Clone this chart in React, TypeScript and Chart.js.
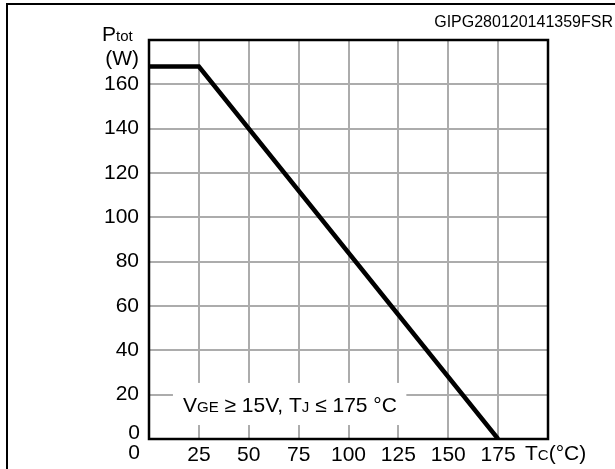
import React, { useEffect, useRef } from 'react';
import { Chart, registerables } from 'chart.js';

Chart.register(...registerables);

// ---- data ----
const tcValues = [0, 25, 175];
const ptotValues = [168, 168, 0];
const xTickLabels = ['25', '50', '75', '100', '125', '150', '175'];
const yTickLabels = ['20', '40', '60', '80', '100', '120', '140', '160'];
const partCode = 'GIPG280120141359FSR';
const yTitleMain = 'P';
const yTitleSub = 'tot';
const yTitleUnit = '(W)';
const xTitleMain = 'T';
const xTitleSub = 'C';
const xTitleUnit = '(°C)';
const conditionParts: [string, boolean][] = [
  ['V', false],
  ['GE', true],
  [' ≥ 15V, T', false],
  ['J', true],
  [' ≤ 175 °C', false],
];

const FONT = "'Liberation Sans', Arial, sans-serif";
const BIG = 21;
const SMALL = 15;

function drawParts(ctx: CanvasRenderingContext2D, parts: [string, boolean][], x: number, y: number) {
  let cx = x;
  ctx.textAlign = 'left';
  ctx.textBaseline = 'alphabetic';
  for (const [t, sub] of parts) {
    ctx.font = `${sub ? SMALL : BIG}px ${FONT}`;
    ctx.fillText(t, cx, y);
    cx += ctx.measureText(t).width;
  }
}

const decorPlugin = {
  id: 'decor',
  beforeDatasetsDraw(chart: any) {
    const { ctx, chartArea } = chart;
    const xs = chart.scales.x;
    const ys = chart.scales.y;
    ctx.save();
    // white box behind the condition text
    const bx0 = xs.getPixelForValue(12);
    const bx1 = xs.getPixelForValue(129);
    const by0 = ys.getPixelForValue(25.3);
    const by1 = ys.getPixelForValue(6.3);
    ctx.fillStyle = '#ffffff';
    ctx.fillRect(bx0, by0, bx1 - bx0, by1 - by0);
    ctx.fillStyle = '#000000';
    drawParts(ctx, conditionParts, chartArea.left + 34, chartArea.bottom - 27);
    ctx.restore();
  },
  afterDraw(chart: any) {
    const { ctx, chartArea } = chart;
    ctx.save();
    // outer frame (left & top visible)
    ctx.strokeStyle = '#000';
    ctx.lineWidth = 2;
    ctx.beginPath();
    ctx.moveTo(7, 469);
    ctx.lineTo(7, 4);
    ctx.lineTo(615, 4);
    ctx.stroke();
    // plot border
    ctx.lineWidth = 2.5;
    ctx.strokeRect(chartArea.left, chartArea.top, chartArea.right - chartArea.left, chartArea.bottom - chartArea.top);

    ctx.fillStyle = '#000';
    // part code
    ctx.font = `16px ${FONT}`;
    ctx.textAlign = 'right';
    ctx.textBaseline = 'alphabetic';
    ctx.fillText(partCode, 613, 27);

    // y title
    drawParts(ctx, [[yTitleMain, false], [yTitleSub, true]], chartArea.left - 47, 41);
    ctx.font = `${BIG}px ${FONT}`;
    ctx.textAlign = 'right';
    ctx.fillText(yTitleUnit, chartArea.left - 10, 65);

    // x title
    drawParts(ctx, [[xTitleMain, false], [xTitleSub, true], [xTitleUnit, false]], chartArea.right - 23, 460);

    // zeros
    ctx.font = `${BIG}px ${FONT}`;
    ctx.textAlign = 'right';
    ctx.textBaseline = 'middle';
    ctx.fillText('0', chartArea.left - 9, chartArea.bottom - 6);
    ctx.textAlign = 'center';
    ctx.fillText('0', chartArea.left - 15, chartArea.bottom + 14);
    ctx.restore();
  },
};

export default function App() {
  const ref = useRef<HTMLCanvasElement>(null);
  useEffect(() => {
    if (!ref.current) return;
    Chart.defaults.font.family = FONT;
    const chart = new Chart(ref.current, {
      type: 'scatter',
      data: {
        datasets: [
          {
            data: tcValues.map((x, i) => ({ x, y: ptotValues[i] })),
            showLine: true,
            borderColor: '#000',
            borderWidth: 4.5,
            pointRadius: 0,
            tension: 0,
          },
        ],
      },
      options: {
        animation: false,
        responsive: false,
        maintainAspectRatio: false,
        layout: { padding: { top: 40, right: 67, left: 0, bottom: 0 } },
        plugins: { legend: { display: false }, tooltip: { enabled: false } },
        scales: {
          x: {
            type: 'linear',
            min: 0,
            max: 200,
            afterFit: (s: any) => { s.height = 30; },
            ticks: {
              stepSize: 25,
              autoSkip: false,
              maxRotation: 0,
              padding: 4,
              color: '#000',
              font: { size: BIG },
              callback: (v: any) => (xTickLabels.includes(String(v)) ? String(v) : ''),
            },
            grid: { color: '#acacac', lineWidth: 2, drawTicks: false },
            border: { display: false },
          },
          y: {
            type: 'linear',
            min: 0,
            max: 180,
            afterFit: (s: any) => { s.width = 149; },
            ticks: {
              stepSize: 20,
              autoSkip: false,
              padding: 10,
              color: '#000',
              font: { size: BIG },
              callback: (v: any) => (yTickLabels.includes(String(v)) ? String(v) : ''),
            },
            grid: { color: '#acacac', lineWidth: 2, drawTicks: false },
            border: { display: false },
          },
        },
      },
      plugins: [decorPlugin],
    });
    return () => chart.destroy();
  }, []);
  return (
    <div style={{ position: 'fixed', left: 0, top: 0, width: 615, height: 469, background: '#fff' }}>
      <canvas ref={ref} width={615} height={469} style={{ display: 'block', width: 615, height: 469 }} />
    </div>
  );
}
